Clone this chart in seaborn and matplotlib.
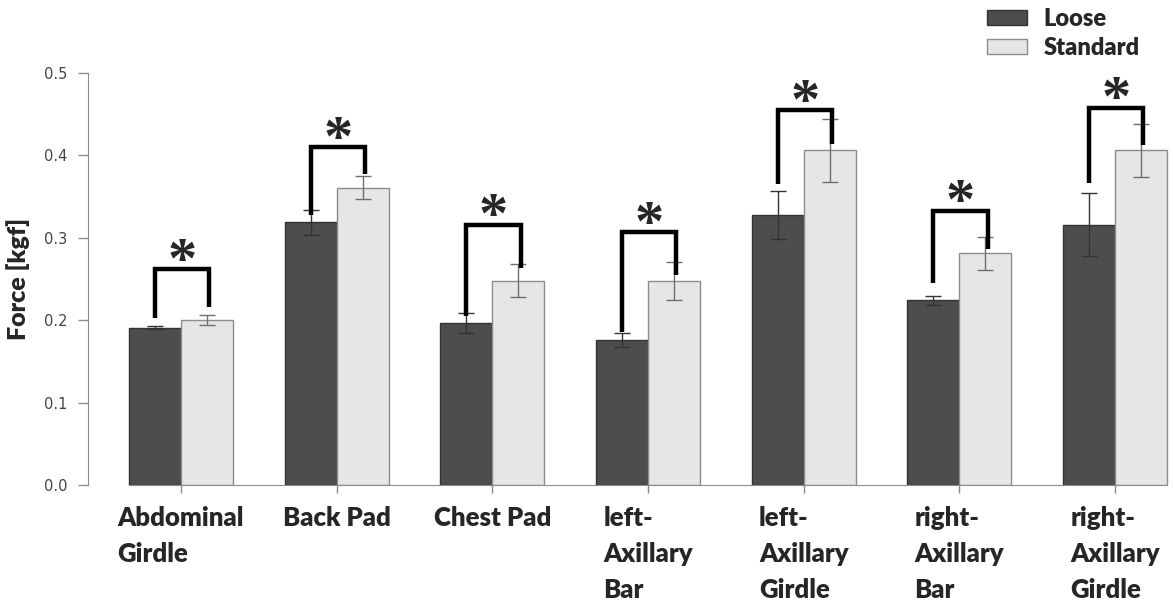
import numpy as np
import pandas as pd
import matplotlib
matplotlib.use('Agg')
import matplotlib.pyplot as plt
import seaborn as sns
from matplotlib.patches import Patch

# データ
parts = ['Abdominal\nGirdle', 'Back Pad', 'Chest Pad', 'left-\nAxillary\nBar',
         'left-\nAxillary\nGirdle', 'right-\nAxillary\nBar', 'right-\nAxillary\nGirdle']
conditions = ['Loose', 'Standard']
loose_mean = [0.191, 0.319, 0.197, 0.176, 0.328, 0.224, 0.316]
loose_err = [0.002, 0.015, 0.012, 0.008, 0.029, 0.0055, 0.0385]
standard_mean = [0.2005, 0.361, 0.248, 0.248, 0.406, 0.2815, 0.406]
standard_err = [0.006, 0.014, 0.020, 0.023, 0.038, 0.020, 0.032]
# 有意差ブラケット（上端, 左脚の下端, 右脚の下端）
bracket_top = [0.262, 0.410, 0.316, 0.307, 0.455, 0.333, 0.458]
bracket_left = [0.203, 0.328, 0.2045, 0.186, 0.365, 0.245, 0.367]
bracket_right = [0.216, 0.378, 0.263, 0.255, 0.414, 0.286, 0.413]
yticks = [0.0, 0.1, 0.2, 0.3, 0.4, 0.5]

df = pd.DataFrame({
    'part': parts * 2,
    'cond': ['Loose'] * len(parts) + ['Standard'] * len(parts),
    'force': loose_mean + standard_mean,
})

sns.set_style('white')
plt.rcParams['font.family'] = ['Lato', 'DejaVu Sans']

fig = plt.figure(figsize=(11.73, 6), dpi=100)
ax = fig.add_axes([88 / 1173, 115 / 600, (1173 - 88) / 1173, (485 - 73) / 600])

colors = {'Loose': '#4d4d4d', 'Standard': '#e6e6e6'}
edges = {'Loose': '#333333', 'Standard': '#8c8c8c'}
sns.barplot(data=df, x='part', y='force', hue='cond', order=parts, hue_order=conditions,
            palette=colors, width=0.668, errorbar=None, legend=False, ax=ax)
bar_containers = list(ax.containers)

errs = {'Loose': loose_err, 'Standard': standard_err}
means = {'Loose': loose_mean, 'Standard': standard_mean}
centers = {}
for cond, cont in zip(conditions, bar_containers):
    xs = []
    for bar in cont:
        bar.set_edgecolor(edges[cond])
        bar.set_linewidth(1.0)
        xs.append(bar.get_x() + bar.get_width() / 2)
    centers[cond] = np.array(xs)
    ecol = '#333333' if cond == 'Loose' else '#6e6e6e'
    ax.errorbar(xs, means[cond], yerr=errs[cond], fmt='none', ecolor=ecol,
                elinewidth=1.0, capsize=5.5, capthick=1.0, zorder=3)

# ブラケットとアスタリスク
for i in range(len(parts)):
    xl = centers['Loose'][i]
    xr = centers['Standard'][i] + 0.015
    ax.plot([xl, xl, xr, xr], [bracket_left[i], bracket_top[i], bracket_top[i], bracket_right[i]],
            color='black', lw=3.2, solid_joinstyle='miter', solid_capstyle='butt', zorder=4)
    ax.annotate('*', xy=((xl + xr) / 2, bracket_top[i]), xytext=(0, -5.5),
                textcoords='offset points', ha='center', va='baseline',
                fontsize=42, fontweight='bold', family='Liberation Serif', zorder=5)

ax.set_ylim(0, 0.5)
ax.set_xlim(-0.597, 6.372)
ax.set_yticks(yticks)
ax.set_yticklabels([f'{v:.1f}' for v in yticks], family='DejaVu Sans', fontsize=10.5, color='#444444')
ax.set_xticks(range(len(parts)))
ax.set_xticklabels(parts, fontsize=18.5, fontweight='heavy', multialignment='left', linespacing=1.6)

for s in ['top', 'right']:
    ax.spines[s].set_visible(False)
ax.spines['left'].set_color('#8c8c8c')
ax.spines['bottom'].set_color('#8c8c8c')
all_bars = [b for c in bar_containers for b in c]
x0 = min(b.get_x() for b in all_bars)
x1 = max(b.get_x() + b.get_width() for b in all_bars)
ax.spines['bottom'].set_bounds(x0, x1)
ax.tick_params(axis='y', length=7, width=1, color='#8c8c8c', pad=8, left=True)
ax.tick_params(axis='x', length=6, width=1, color='#8c8c8c', pad=9, bottom=True)

ax.set_xlabel('')
ax.set_ylabel('Force [kgf]', fontsize=18, fontweight='heavy', labelpad=10)

handles = [Patch(facecolor=colors[c], edgecolor=edges[c], label=c) for c in conditions]
fig.legend(handles=handles, loc='upper left', bbox_to_anchor=(987 / 1173, 1 - 8 / 600),
           frameon=False, prop={'weight': 'heavy', 'size': 17},
           handlelength=1.7, handleheight=0.6, handletextpad=0.68, labelspacing=0.31,
           borderpad=0, borderaxespad=0)

fig.savefig('out.png', dpi=100)
